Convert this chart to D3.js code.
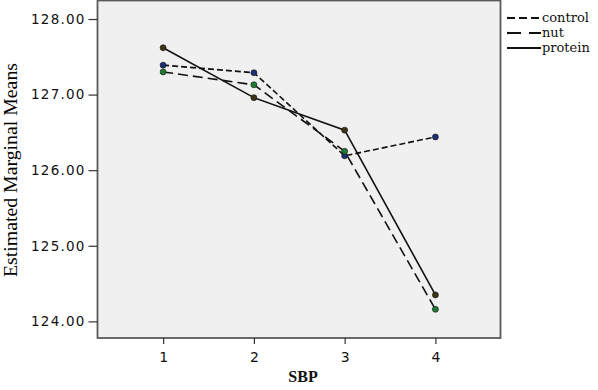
<!DOCTYPE html>
<html>
<head>
<meta charset="utf-8">
<script src="https://cdn.jsdelivr.net/npm/d3@7"></script>
<style>
  body { margin: 0; background: #fff; }
</style>
</head>
<body>
<div id="chart"></div>
<script>
// SBP levels on the x axis
var sbpLevels = [1, 2, 3, 4];
// estimated marginal means, one array per group
var controlMeans = [127.39, 127.29, 126.19, 126.44];
var nutMeans = [127.30, 127.13, 126.25, 124.16];
var proteinMeans = [127.62, 126.96, 126.53, 124.35];
var groupNames = ["control", "nut", "protein"];
var yTicks = [124, 125, 126, 127, 128];

var series = [
  { name: groupNames[0], values: controlMeans, dash: "6,3", dot: "#1d2f70" },
  { name: groupNames[1], values: nutMeans, dash: "10,5", dot: "#1f7a33" },
  { name: groupNames[2], values: proteinMeans, dash: null, dot: "#3d3418" }
];

var W = 598, H = 390;
var margin = { top: 0.5, right: 97.5, bottom: 52, left: 97.5 };
var width = W - margin.left - margin.right,
  height = H - margin.top - margin.bottom;

var svg = d3.select("#chart").append("svg")
  .attr("width", W)
  .attr("height", H);

var g = svg.append("g")
  .attr("transform", "translate(" + margin.left + "," + margin.top + ")");

// plot background + frame
g.append("rect")
  .attr("x", 0).attr("y", 0)
  .attr("width", width).attr("height", height)
  .attr("fill", "#f0f0f0")
  .attr("stroke", "#5a5a5a")
  .attr("stroke-width", 1.8);

var x = d3.scaleLinear()
  .domain([0.277, 4.717])
  .range([0, width]);

var y = d3.scaleLinear()
  .domain([123.78, 128.245])
  .range([height, 0]);

// Y axis
var yAxis = g.append("g")
  .call(d3.axisLeft(y).tickValues(yTicks).tickFormat(d3.format(".2f")).tickSize(9).tickPadding(3));
yAxis.select("path").remove();
yAxis.selectAll("line").attr("stroke", "#333").attr("stroke-width", 1.2);
yAxis.selectAll("text")
  .attr("font-family", "DejaVu Sans, sans-serif")
  .attr("font-size", 13.5)
  .attr("letter-spacing", 1.2)
  .attr("fill", "#111");

// X axis
var xAxis = g.append("g")
  .attr("transform", "translate(0," + height + ")")
  .call(d3.axisBottom(x).tickValues(sbpLevels).tickFormat(d3.format("d")).tickSize(6).tickPadding(8));
xAxis.select("path").remove();
xAxis.selectAll("line").attr("stroke", "#333").attr("stroke-width", 1.2);
xAxis.selectAll("text")
  .attr("font-family", "DejaVu Sans, sans-serif")
  .attr("font-size", 14)
  .attr("fill", "#111");

// axis titles
svg.append("text")
  .attr("transform", "translate(17,170) rotate(-90)")
  .attr("text-anchor", "middle")
  .attr("font-family", "Liberation Serif, serif")
  .attr("font-size", 19)
  .attr("textLength", 214)
  .attr("lengthAdjust", "spacingAndGlyphs")
  .attr("fill", "#000")
  .text("Estimated Marginal Means");

svg.append("text")
  .attr("x", 303)
  .attr("y", 382)
  .attr("text-anchor", "middle")
  .attr("font-family", "Liberation Serif, serif")
  .attr("font-weight", "bold")
  .attr("font-size", 16)
  .attr("fill", "#111")
  .text("SBP");

// lines
var line = d3.line()
  .x(function (d, i) { return x(sbpLevels[i]); })
  .y(function (d) { return y(d); });

series.forEach(function (s) {
  g.append("path")
    .datum(s.values)
    .attr("d", line)
    .attr("fill", "none")
    .attr("stroke", "#111")
    .attr("stroke-width", 1.6)
    .attr("stroke-dasharray", s.dash);
});

series.forEach(function (s) {
  g.selectAll(".dot-" + s.name)
    .data(s.values)
    .enter()
    .append("circle")
    .attr("cx", function (d, i) { return x(sbpLevels[i]); })
    .attr("cy", function (d) { return y(d); })
    .attr("r", 3)
    .attr("fill", s.dot)
    .attr("stroke", "#111")
    .attr("stroke-width", 0.6);
});

// legend
var legend = svg.append("g");
series.forEach(function (s, i) {
  var ly = 18 + i * 15;
  legend.append("line")
    .attr("x1", 507).attr("x2", 541)
    .attr("y1", ly).attr("y2", ly)
    .attr("stroke", "#111")
    .attr("stroke-width", 2.2)
    .attr("stroke-dasharray", s.dash ? (i === 0 ? "8,4" : "14,8") : null);
  legend.append("text")
    .attr("x", 542)
    .attr("y", ly + 4)
    .attr("font-family", "DejaVu Serif, serif")
    .attr("font-size", 13)
    .attr("fill", "#111")
    .text(s.name);
});
</script>
</body>
</html>
